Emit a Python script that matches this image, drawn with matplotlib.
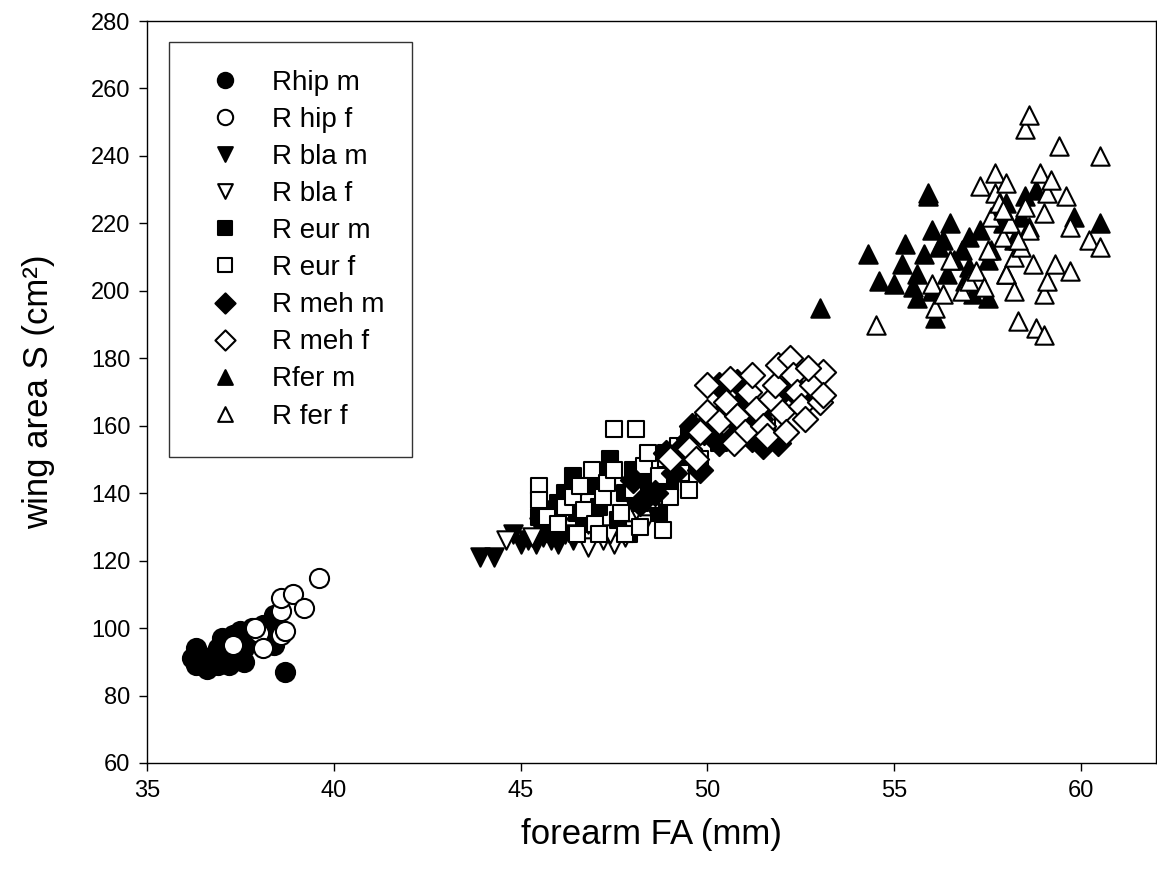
import numpy as np
import matplotlib.pyplot as plt

plt.rcParams['font.family'] = ['Liberation Sans', 'DejaVu Sans']

# forearm length (mm) and wing area (cm²) per species / sex
hip_m_fa = [36.2, 36.3, 36.3, 36.4, 36.6, 36.7, 36.8, 36.9, 36.9, 37.0, 37.1, 37.1, 37.2, 37.3,
            37.3, 37.4, 37.5, 37.5, 37.6, 37.7, 37.8, 37.9, 38.1, 38.3, 38.4, 38.5, 38.4, 38.7,
            37.0, 37.6]
hip_m_s = [91, 94, 89, 92, 88, 90, 92, 94, 89, 91, 93, 96, 89, 91,
           98, 93, 95, 99, 90, 97, 100, 99, 101, 100, 104, 98, 95, 87,
           97, 94]

hip_f_fa = [37.3, 38.0, 38.1, 38.6, 38.7, 38.6, 38.6, 38.9, 39.2, 39.6, 37.9]
hip_f_s = [95, 98.5, 94, 98, 99, 105, 109, 110, 106, 115, 100]

bla_m_fa = [43.9, 44.3, 44.8, 45.0, 45.2, 45.4, 45.6, 45.8, 46.0, 46.2, 45.5, 45.7, 46.4,
            46.8, 47.0, 45.9, 46.5, 47.2]
bla_m_s = [121, 121, 128, 125, 126, 125, 127, 126, 125, 128, 130, 132, 126,
           131, 134, 135, 140, 127]

bla_f_fa = [44.6, 45.3, 46.0, 46.6, 46.8, 47.2, 47.5, 47.8, 48.0, 48.3, 47.4, 46.3, 48.6,
            48.1, 49.5]
bla_f_s = [126, 127, 130, 132, 124, 126, 125, 127, 129, 131, 128, 136, 134,
           135, 150]

eur_m_fa = [45.5, 45.8, 46.0, 46.2, 46.5, 46.7, 46.9, 47.1, 47.3, 47.4, 47.6, 47.8, 48.0,
            48.2, 48.4, 48.7, 49.0, 49.2, 48.9, 47.9, 46.4, 49.5]
eur_m_s = [133, 128, 137, 140, 134, 131, 142, 136, 145, 150, 132, 140, 147,
           137, 143, 134, 143, 148, 152, 128, 145, 157]

eur_f_fa = [45.5, 45.5, 45.7, 46.0, 46.2, 46.4, 46.5, 46.7, 46.9, 47.0, 47.2, 47.3, 47.5,
            47.5, 47.7, 47.8, 48.0, 48.1, 48.2, 48.3, 48.4, 48.5, 48.7, 48.9, 49.0, 49.2,
            49.3, 49.5, 49.8, 49.9, 50.1, 47.1, 46.6, 48.8, 49.6, 50.3, 51.6, 51.4]
eur_f_s = [142, 138, 133, 131, 136, 139, 128, 135, 147, 131, 139, 143, 147,
           159, 134, 128, 141, 159, 130, 148, 152, 138, 145, 150, 139, 154,
           146, 141, 150, 161, 158, 128, 142, 129, 158, 155, 161, 156]

meh_m_fa = [48.2, 48.6, 48.9, 49.1, 49.3, 49.5, 49.6, 49.9, 50.1, 50.3, 50.5, 50.7, 50.9,
            51.0, 51.2, 51.4, 51.6, 51.9, 52.0, 52.3, 52.5, 50.8, 49.8, 51.5, 50.3, 48.0]
meh_m_s = [137, 140, 152, 146, 153, 156, 160, 158, 162, 155, 165, 157, 160,
           168, 156, 162, 166, 155, 170, 172, 168, 173, 147, 154, 172, 144]

meh_f_fa = [49.0, 49.5, 49.8, 50.0, 50.0, 50.3, 50.5, 50.6, 50.8, 51.0, 51.1, 51.3, 51.5,
            51.7, 51.8, 51.9, 52.0, 52.2, 52.3, 52.4, 52.5, 52.6, 52.8, 53.0, 53.1, 53.1,
            51.6, 52.1, 50.7, 49.7, 51.2, 52.7]
meh_f_s = [150, 153, 158, 164, 172, 161, 167, 174, 163, 158, 170, 165, 160,
           168, 172, 178, 164, 180, 175, 170, 166, 162, 172, 167, 176, 169,
           157, 158, 155, 150, 175, 177]

fer_m_fa = [53.0, 54.3, 54.6, 55.0, 55.2, 55.3, 55.5, 55.6, 55.8, 55.9, 55.9, 56.0, 56.0,
            56.2, 56.3, 56.1, 56.4, 56.6, 56.8, 57.0, 57.1, 57.3, 57.5, 57.6, 57.8, 57.9,
            58.0, 58.2, 58.4, 58.5, 58.6, 58.8, 57.5, 56.5, 57.0, 59.8, 60.5, 58.0, 55.6,
            56.9]
fer_m_s = [195, 211, 203, 202, 208, 214, 201, 205, 211, 229, 228, 200, 218,
           213, 215, 192, 205, 209, 212, 207, 199, 218, 209, 212, 224, 220,
           226, 215, 222, 228, 219, 230, 198, 220, 216, 222, 220, 205, 198,
           203]

fer_f_fa = [54.5, 56.1, 56.0, 56.3, 56.5, 56.8, 57.0, 57.2, 57.4, 57.5, 57.6, 57.7, 57.7,
            57.8, 57.9, 58.0, 58.0, 58.1, 58.2, 58.3, 58.4, 58.5, 58.6, 58.5, 58.6, 58.7,
            58.8, 58.9, 59.0, 59.0, 59.0, 59.1, 59.1, 59.2, 59.3, 59.4, 59.6, 59.7, 59.7,
            60.2, 60.5, 60.5, 57.3, 58.3, 57.9, 58.2]
fer_f_s = [190, 195, 202, 199, 209, 200, 203, 206, 201, 212, 222, 235, 229,
           226, 216, 205, 232, 220, 210, 191, 213, 225, 218, 248, 252, 208,
           189, 235, 223, 199, 187, 229, 203, 233, 208, 243, 228, 219, 206,
           215, 240, 213, 231, 215, 224, 200]

labels = ['Rhip m', 'R hip f', 'R bla m', 'R bla f', 'R eur m', 'R eur f',
          'R meh m', 'R meh f', 'Rfer m', 'R fer f']

series = [
    (hip_m_fa, hip_m_s, 'o', 'black', 190),
    (hip_f_fa, hip_f_s, 'o', 'white', 190),
    (bla_m_fa, bla_m_s, 'v', 'black', 175),
    (bla_f_fa, bla_f_s, 'v', 'white', 175),
    (eur_m_fa, eur_m_s, 's', 'black', 140),
    (eur_f_fa, eur_f_s, 's', 'white', 140),
    (meh_m_fa, meh_m_s, 'D', 'black', 165),
    (meh_f_fa, meh_f_s, 'D', 'white', 165),
    (fer_m_fa, fer_m_s, '^', 'black', 175),
    (fer_f_fa, fer_f_s, '^', 'white', 175),
]

fig = plt.figure(figsize=(11.57, 8.77), dpi=100)
ax = fig.add_axes([0.127, 0.130, 0.872, 0.846])

for (fa, s, mk, fc, size), lab in zip(series, labels):
    ax.scatter(fa, s, marker=mk, s=size, facecolor=fc, edgecolor='black',
               linewidth=1.5, label=lab, zorder=3)

ax.set_xlim(35, 62)
ax.set_ylim(60, 280)
ax.set_xticks(np.arange(35, 61, 5))
ax.set_yticks(np.arange(60, 281, 20))
ax.tick_params(direction='out', length=6, width=1, labelsize=17, pad=6)
for sp in ax.spines.values():
    sp.set_linewidth(1)

ax.set_xlabel('forearm FA (mm)', fontsize=25, labelpad=12)
ax.set_ylabel('wing area S (cm²)', fontsize=25, labelpad=26)

leg = ax.legend(loc='upper left', bbox_to_anchor=(0.022, 0.972), fontsize=20,
                markerscale=0.8, frameon=True, fancybox=False, edgecolor='black',
                labelspacing=0.4, borderpad=1.0, handletextpad=0.7,
                borderaxespad=0, scatteryoffsets=[0.5])
leg.get_frame().set_linewidth(1)

plt.savefig('out.png', dpi=100)
